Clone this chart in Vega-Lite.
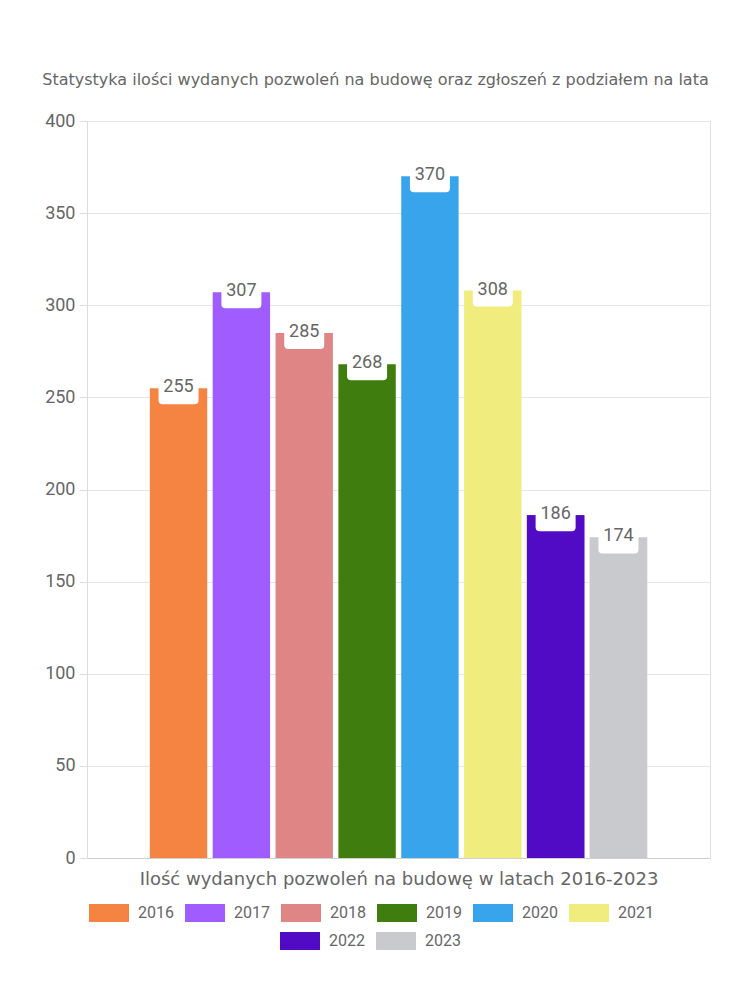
{
  "$schema": "https://vega.github.io/schema/vega-lite/v6.json",
  "width": 623,
  "height": 737,
  "autosize": {"type": "none"},
  "padding": {"left": 87, "top": 121, "right": 40, "bottom": 142},
  "background": "white",
  "title": {
    "text": "Statystyka ilości wydanych pozwoleń na budowę oraz zgłoszeń z podziałem na lata",
    "anchor": "middle",
    "dx": -23,
    "offset": 24,
    "font": "DejaVu Sans",
    "fontSize": 16,
    "fontWeight": "normal",
    "color": "#666666"
  },
  "data": {
    "values": [
      {"year": "2016", "value": 255},
      {"year": "2017", "value": 307},
      {"year": "2018", "value": 285},
      {"year": "2019", "value": 268},
      {"year": "2020", "value": 370},
      {"year": "2021", "value": 308},
      {"year": "2022", "value": 186},
      {"year": "2023", "value": 174}
    ]
  },
  "encoding": {
    "x": {
      "field": "year",
      "type": "nominal",
      "sort": null,
      "scale": {"paddingInner": 0.087, "paddingOuter": 1},
      "axis": {
        "title": "Ilość wydanych pozwoleń na budowę w latach 2016-2023",
        "labels": false,
        "ticks": false,
        "domain": true,
        "domainColor": "#d0d0d0",
        "titleFont": "DejaVu Sans",
        "titleFontSize": 18,
        "titleFontWeight": "normal",
        "titleColor": "#666666",
        "titlePadding": 12
      }
    },
    "y": {
      "field": "value",
      "type": "quantitative",
      "scale": {"domain": [0, 400]},
      "axis": {
        "title": null,
        "values": [0, 50, 100, 150, 200, 250, 300, 350, 400],
        "tickSize": 8,
        "labelPadding": 4,
        "tickColor": "#dddddd",
        "domainColor": "#dddddd",
        "gridColor": "#e6e6e6",
        "labelFont": "Roboto",
        "labelFontSize": 18,
        "labelColor": "#666666"
      }
    }
  },
  "layer": [
    {
      "mark": {"type": "bar", "opacity": 1},
      "encoding": {
        "color": {
          "field": "year",
          "type": "nominal",
          "scale": {
            "domain": ["2016", "2017", "2018", "2019", "2020", "2021", "2022", "2023"],
            "range": ["#F58442", "#A05CFF", "#E08585", "#3E7D0E", "#38A4EC", "#F0EC7E", "#520BC4", "#C9CACE"]
          },
          "legend": {
            "title": null,
            "values": ["2016", "2017", "2018", "2019", "2020", "2021"],
            "orient": "none",
            "direction": "horizontal",
            "legendX": 2,
            "legendY": 772
          }
        }
      }
    },
    {
      "transform": [{"filter": {"field": "year", "oneOf": ["2022", "2023"]}}],
      "mark": {"type": "bar", "opacity": 1},
      "encoding": {
        "fill": {
          "field": "year",
          "type": "nominal",
          "scale": {"domain": ["2022", "2023"], "range": ["#520BC4", "#C9CACE"]},
          "legend": {
            "title": null,
            "orient": "none",
            "direction": "horizontal",
            "legendX": 193,
            "legendY": 800
          }
        }
      }
    },
    {
      "mark": {
        "type": "point",
        "filled": true,
        "opacity": 1,
        "color": "white",
        "strokeWidth": 0,
        "size": 1600,
        "shape": "M-0.8,-0.8 H0.8 Q1,-0.8 1,-0.6 V0.6 Q1,0.8 0.8,0.8 H-0.8 Q-1,0.8 -1,0.6 V-0.6 Q-1,-0.8 -0.8,-0.8 Z"
      }
    },
    {
      "mark": {
        "type": "text",
        "font": "Roboto",
        "fontSize": 18,
        "color": "#666666",
        "baseline": "middle",
        "dy": -1
      },
      "encoding": {"text": {"field": "value", "type": "quantitative"}}
    }
  ],
  "config": {
    "view": {"stroke": "#e0e0e0"},
    "legend": {
      "symbolType": "M-1,-0.45 H1 V0.45 H-1 Z",
      "symbolSize": 1600,
      "symbolStrokeWidth": 0,
      "labelFont": "Roboto",
      "labelFontSize": 16,
      "labelColor": "#666666",
      "labelOffset": 9,
      "columnPadding": 11
    }
  }
}
